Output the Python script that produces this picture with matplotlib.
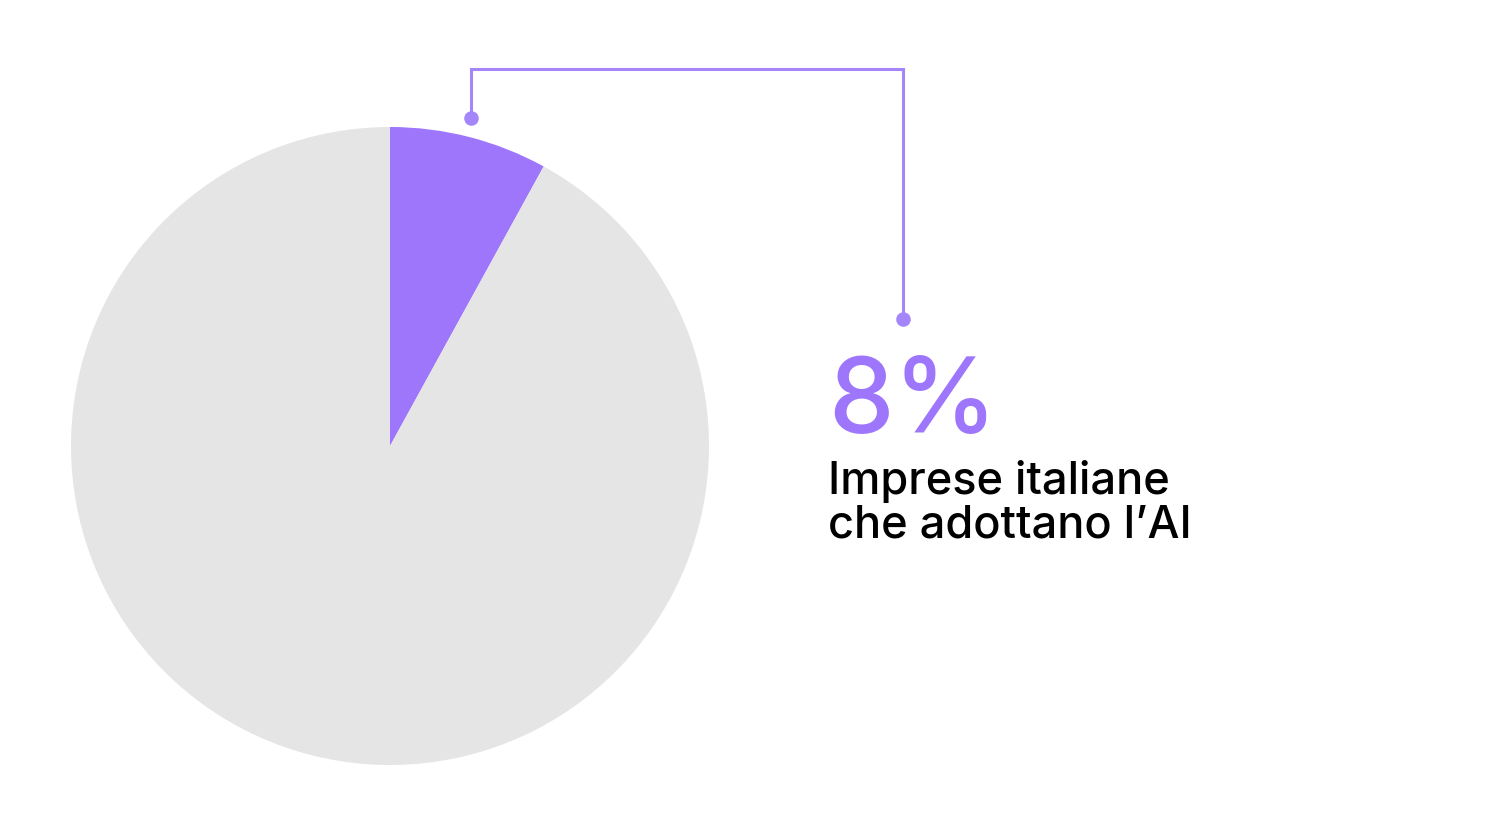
import numpy as np
import matplotlib
matplotlib.use('Agg')
import matplotlib.pyplot as plt

# ── Data ────────────────────────────────────────────────────────────────────
labels = ['Imprese che adottano l\u2019AI', 'Altre imprese']
values = [8, 92]
big_label = '8%'
caption_lines = ['Imprese italiane', 'che adottano l\u2019AI']

# ── Style ───────────────────────────────────────────────────────────────────
PURPLE = '#9D76FC'
LINE_PURPLE = '#A586FA'
GREY = '#E5E5E5'
W, H = 1488, 837

fig = plt.figure(figsize=(W / 100, H / 100), dpi=100)
ax = fig.add_axes([0, 0, 1, 1])

center = (390, H - 447)
radius = 319
wedges, _ = ax.pie(values, colors=[PURPLE, GREY], startangle=90, counterclock=False,
                   center=center, radius=radius, frame=True,
                   wedgeprops=dict(linewidth=0))
ax.set_xlim(0, W)
ax.set_ylim(0, H)
ax.set_aspect('equal')
ax.axis('off')

# connector from the middle of the highlighted slice
w = wedges[0]
mid = np.deg2rad((w.theta1 + w.theta2) / 2)
x0 = center[0] + radius * 1.06 * np.cos(mid) - 3
y0 = center[1] + radius * 1.06 * np.sin(mid)
top_y = H - 70
x1, y1 = 903, H - 320
ax.plot([x0, x0, x1, x1], [y0, top_y, top_y, y1], color=LINE_PURPLE, lw=2.2,
        solid_joinstyle='miter', zorder=3)
ax.scatter([x0, x1], [y0, y1], s=110, color=LINE_PURPLE, zorder=4, linewidths=0)

# ── Text ────────────────────────────────────────────────────────────────────
ax.text(828, H - 433, big_label, color=PURPLE, fontsize=75, family='Inter',
        fontweight='medium', ha='left', va='baseline')
for i, line in enumerate(caption_lines):
    ax.text(828, H - 494 - 44 * i, line, color='black', fontsize=32.5, family='Inter',
            fontweight='medium', ha='left', va='baseline')

fig.savefig('out.png', dpi=100, facecolor='white')
